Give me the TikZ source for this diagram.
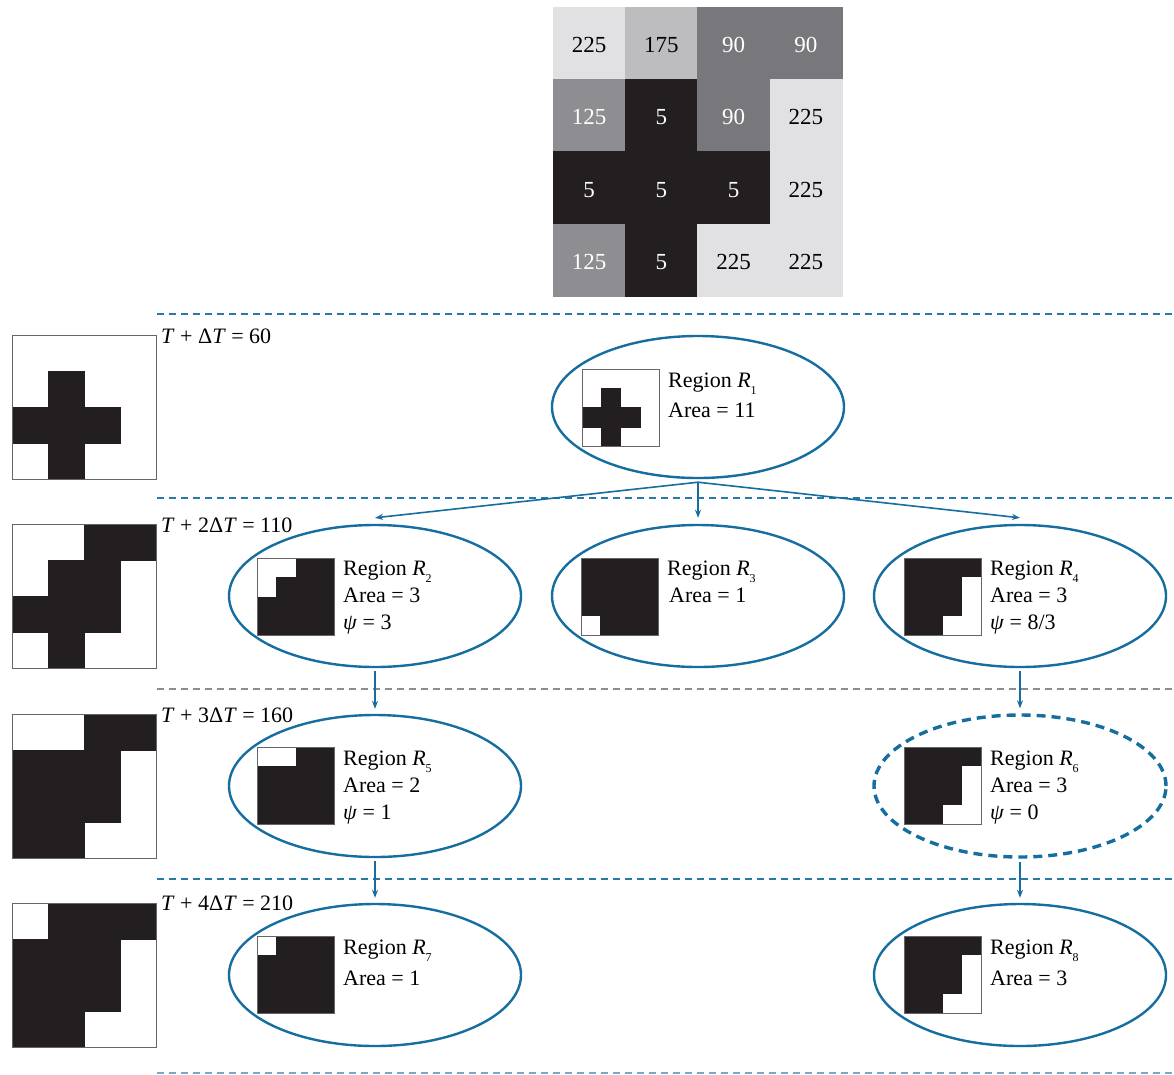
\documentclass[tikz,border=0pt]{standalone}
\usepackage{fontspec}
\setmainfont{Liberation Serif}
\usetikzlibrary{shapes.geometric,arrows.meta}
\definecolor{eblue}{RGB}{22,110,160}
\definecolor{blk}{RGB}{35,31,32}
\definecolor{cA}{RGB}{225,225,227}
\definecolor{cB}{RGB}{189,189,192}
\definecolor{cC}{RGB}{120,120,124}
\definecolor{cD}{RGB}{142,142,146}
\definecolor{sepgray}{RGB}{140,140,140}
\definecolor{sepblue}{RGB}{40,120,170}
\definecolor{sepblueL}{RGB}{120,170,200}
\tikzset{
  reg/.style={ellipse, draw=eblue, line width=2.4pt, minimum width=292pt, minimum height=142pt, inner sep=0pt},
  regdash/.style={reg, line width=3.4pt, dash pattern=on 9pt off 6pt},
  arr/.style={draw=eblue, line width=1.6pt, -{Stealth[length=8pt,width=6pt]}},
  sep/.style={line width=1.2pt, dash pattern=on 7pt off 5pt},
  frame/.style={draw=black!60, line width=1pt},
  txt/.style={anchor=base west, inner sep=0pt, font=\fontsize{22}{22}\selectfont},
  num/.style={inner sep=0pt, font=\fontsize{23}{23}\selectfont},
}
\newcommand\sbs[1]{\raisebox{-0.32em}{\fontsize{12}{12}\selectfont #1}}
\newcommand\blackcells[4]{%
  \fill[white] (#1,#2) rectangle ++({4*#3},{4*#3});
  \foreach \r/\c in {#4} {\fill[blk,draw=blk,line width=0.2pt] ({#1+(\c-1)*#3},{#2+(\r-1)*#3}) rectangle ++(#3,#3);}
  \draw[frame] (#1,#2) rectangle ++({4*#3},{4*#3});}
\newcommand\whitecells[4]{%
  \fill[blk] (#1,#2) rectangle ++({4*#3},{4*#3});
  \foreach \r/\c in {#4} {\fill[white] ({#1+(\c-1)*#3},{#2+(\r-1)*#3}) rectangle ++(#3,#3);}
  \draw[frame] (#1,#2) rectangle ++({4*#3},{4*#3});}
\begin{document}
\begin{tikzpicture}[x=1pt,y=-1pt]
\useasboundingbox (0,0) rectangle (1174,1074);
% top grid
\def\cs{72.25}
\foreach \v [count=\i from 0] in {225,175,90,90,125,5,90,225,5,5,5,225,125,5,225,225} {
  \pgfmathtruncatemacro\cc{mod(\i,4)}
  \pgfmathtruncatemacro\rr{div(\i,4)}
  \ifnum\v=225 \def\fc{cA}\def\tc{black}\fi
  \ifnum\v=175 \def\fc{cB}\def\tc{black}\fi
  \ifnum\v=90 \def\fc{cC}\def\tc{white}\fi
  \ifnum\v=125 \def\fc{cD}\def\tc{white}\fi
  \ifnum\v=5 \def\fc{blk}\def\tc{white}\fi
  \fill[\fc,draw=\fc,line width=0.3pt] ({553+\cc*\cs},{7+\rr*\cs}) rectangle ++(\cs,\cs);
  \node[num,text=\tc] (g\i) at ({553+(\cc+0.5)*\cs},{7+(\rr+0.5)*\cs+2}) {\v};
}
% separators
\draw[sep,sepblue] (157,314) -- (1174,314);
\draw[sep,sepblue] (157,498) -- (1174,498);
\draw[sep,sepgray] (157,689) -- (1174,689);
\draw[sep,sepblue] (157,879) -- (1174,879);
\draw[sep,sepblueL] (157,1073) -- (1174,1073);
% left images
\blackcells{12}{335}{36}{2/2,3/1,3/2,3/3,4/2}
\blackcells{12}{524}{36}{1/3,1/4,2/2,2/3,3/1,3/2,3/3,4/2}
\blackcells{12}{714}{36}{1/3,1/4,2/1,2/2,2/3,3/1,3/2,3/3,4/1,4/2}
\blackcells{12}{903}{36}{1/2,1/3,1/4,2/1,2/2,2/3,3/1,3/2,3/3,4/1,4/2}
% threshold labels
\node[txt] (t1) at (161,343) {\textit{T} + Δ\textit{T} = 60};
\node[txt] (t2) at (161,532) {\textit{T} + 2Δ\textit{T} = 110};
\node[txt] (t3) at (161,722) {\textit{T} + 3Δ\textit{T} = 160};
\node[txt] (t4) at (161,910) {\textit{T} + 4Δ\textit{T} = 210};
% region ellipses
\node[reg] (r1) at (698,407) {};
\node[reg] (r2) at (375,596) {};
\node[reg] (r3) at (698,596) {};
\node[reg] (r4) at (1020,596) {};
\node[reg] (r5) at (375,786) {};
\node[regdash] (r6) at (1020,786) {};
\node[reg] (r7) at (375,975) {};
\node[reg] (r8) at (1020,975) {};
% mini images
\blackcells{582}{369}{19.25}{2/2,3/1,3/2,3/3,4/2}
\whitecells{257}{558}{19.25}{1/1,1/2,2/1}
\whitecells{581}{558}{19.25}{4/1}
\whitecells{904}{558}{19.25}{2/4,3/4,4/3,4/4}
\whitecells{257}{747}{19.25}{1/1,1/2}
\whitecells{904}{747}{19.25}{2/4,3/4,4/3,4/4}
\whitecells{257}{936}{19.25}{1/1}
\whitecells{904}{936}{19.25}{2/4,3/4,4/3,4/4}
% region texts
\node[txt] (r1a) at (668,387) {Region \textit{R}\sbs{1}};
\node[txt] (r1b) at (668,417) {Area = 11};
\node[txt] (r2a) at (343,575) {Region \textit{R}\sbs{2}};
\node[txt] (r2b) at (343,602) {Area = 3};
\node[txt] (r2c) at (343,629) {\textit{ψ} = 3};
\node[txt] (r3a) at (667,575) {Region \textit{R}\sbs{3}};
\node[txt] (r3b) at (669,602) {Area = 1};
\node[txt] (r4a) at (990,575) {Region \textit{R}\sbs{4}};
\node[txt] (r4b) at (990,602) {Area = 3};
\node[txt] (r4c) at (990,629) {\textit{ψ} = 8/3};
\node[txt] (r5a) at (343,765) {Region \textit{R}\sbs{5}};
\node[txt] (r5b) at (343,792) {Area = 2};
\node[txt] (r5c) at (343,819) {\textit{ψ} = 1};
\node[txt] (r6a) at (990,765) {Region \textit{R}\sbs{6}};
\node[txt] (r6b) at (990,792) {Area = 3};
\node[txt] (r6c) at (990,819) {\textit{ψ} = 0};
\node[txt] (r7a) at (343,954) {Region \textit{R}\sbs{7}};
\node[txt] (r7b) at (343,985) {Area = 1};
\node[txt] (r8a) at (990,954) {Region \textit{R}\sbs{8}};
\node[txt] (r8b) at (990,985) {Area = 3};
% arrows
\coordinate (r1s) at ([yshift=-3pt]r1.south);
\draw[arr] (r1s) -- ([yshift=6pt]r2.north);
\draw[arr] (r1s) -- ([yshift=6pt]r3.north);
\draw[arr] (r1s) -- ([yshift=6pt]r4.north);
\draw[arr] ([yshift=-3pt]r2.south) -- ([yshift=5pt]r5.north);
\draw[arr] ([yshift=-3pt]r4.south) -- ([yshift=5pt]r6.north);
\draw[arr] ([yshift=-3pt]r5.south) -- ([yshift=5pt]r7.north);
\draw[arr] ([yshift=-3pt]r6.south) -- ([yshift=5pt]r8.north);
\end{tikzpicture}
\end{document}
